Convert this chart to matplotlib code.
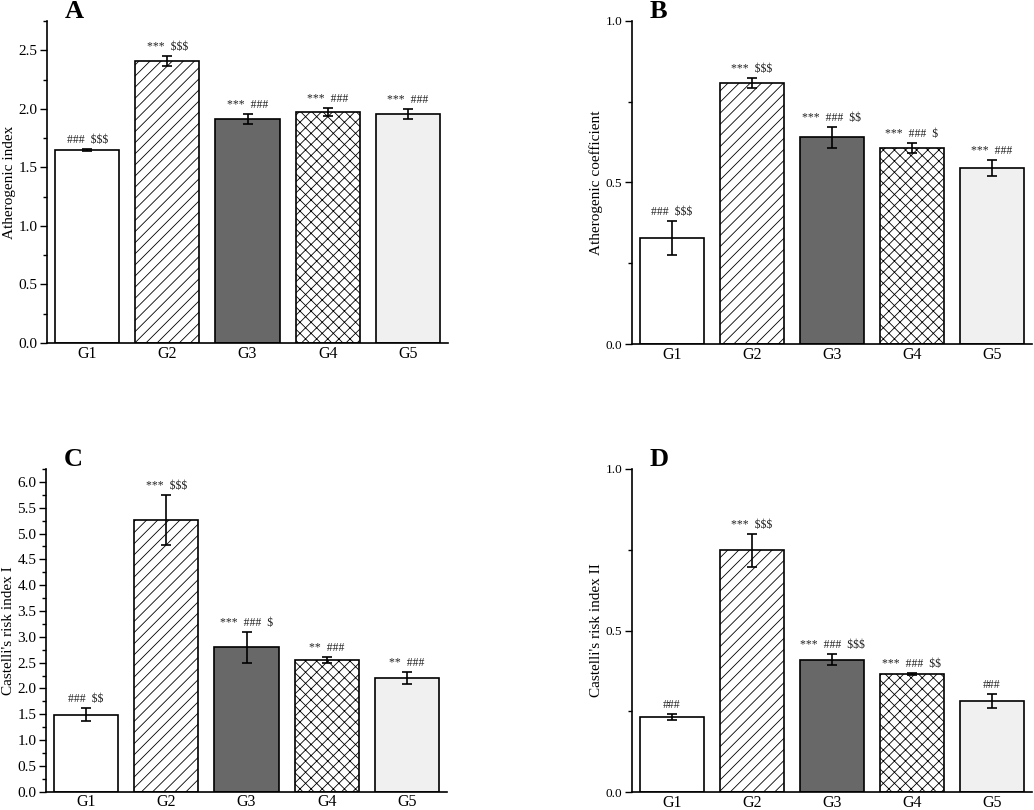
import numpy as np
import matplotlib
matplotlib.use("Agg")
import matplotlib.pyplot as plt
from matplotlib.ticker import MultipleLocator, AutoMinorLocator

plt.rcParams['font.family'] = ['Liberation Serif', 'DejaVu Serif']
plt.rcParams['hatch.linewidth'] = 0.6

# data
groups = ["G1", "G2", "G3", "G4", "G5"]

ai_mean = [1.65, 2.41, 1.915, 1.975, 1.957]
ai_err = [0.01, 0.04, 0.043, 0.034, 0.045]
ai_sig = ["###  $$$", "***  $$$", "***  ###", "***  ###", "***  ###"]

ac_mean = [0.328, 0.808, 0.640, 0.606, 0.544]
ac_err = [0.053, 0.017, 0.032, 0.016, 0.025]
ac_sig = ["###  $$$", "***  $$$", "***  ###  $$", "***  ###  $", "***  ###"]

cr1_mean = [1.49, 5.265, 2.797, 2.55, 2.20]
cr1_err = [0.13, 0.49, 0.30, 0.065, 0.12]
cr1_sig = ["###  $$", "***  $$$", "***  ###  $", "**  ###", "**  ###"]

cr2_mean = [0.233, 0.748, 0.41, 0.365, 0.281]
cr2_err = [0.009, 0.051, 0.018, 0.003, 0.022]
cr2_sig = ["###", "***  $$$", "***  ###  $$$", "***  ###  $$", "###"]

faces = ["white", "white", "#686868", "white", "#f0f0f0"]
hatches = [None, "///", None, "xxx", None]

fig = plt.figure(figsize=(10.34, 8.10), dpi=100)

panels = [
    ("A", [0.0455, 0.5765, 0.3878, 0.3975], ai_mean, ai_err, ai_sig, "Atherogenic index", 2.75, 11),
    ("B", [0.6112, 0.5753, 0.3868, 0.3988], ac_mean, ac_err, ac_sig, "Atherogenic coefficient", 1.0, 9.5),
    ("C", [0.0445, 0.0226, 0.3878, 0.3984], cr1_mean, cr1_err, cr1_sig, "Castelli's risk index I", 6.25, 11),
    ("D", [0.6112, 0.0222, 0.3868, 0.3988], cr2_mean, cr2_err, cr2_sig, "Castelli's risk index II", 1.0, 9.5),
]

x = np.arange(1, 6)
for letter, rect, mean, err, sig, ylab, ytop, tfs in panels:
    ax = fig.add_axes(rect)
    for i in range(5):
        ax.bar(x[i], mean[i], width=0.8, color=faces[i], edgecolor="black",
               linewidth=1.2, hatch=hatches[i], zorder=2)
    ax.errorbar(x, mean, yerr=err, fmt="none", ecolor="black", elinewidth=1.2,
                capsize=3.5, capthick=1.2, zorder=3)
    for i in range(5):
        ax.annotate(sig[i], (x[i], mean[i] + err[i]), xytext=(0, 2),
                    textcoords="offset points", ha="center", va="bottom",
                    fontsize=8.5, parse_math=False, color="#222222")
    ax.set_xlim(0.5, 5.5)
    ax.set_ylim(0, ytop)
    ax.set_xticks(x)
    ax.set_xticklabels(groups, fontsize=11.5)
    ax.yaxis.set_major_locator(MultipleLocator(0.5))
    ax.yaxis.set_minor_locator(AutoMinorLocator(2))
    ax.yaxis.set_major_formatter(plt.FormatStrFormatter("%.1f"))
    ax.tick_params(axis="y", which="major", length=5, width=1, labelsize=tfs,
                   direction="out", pad=2)
    ax.tick_params(axis="y", which="minor", length=3, width=1, direction="out")
    ax.tick_params(axis="x", length=0, pad=2)
    ax.spines["top"].set_visible(False)
    ax.spines["right"].set_visible(False)
    ax.spines["left"].set_linewidth(1.2)
    ax.spines["bottom"].set_linewidth(1.2)
    ax.set_ylabel(ylab, fontsize=11, labelpad=2)
    ax.text(0.045, 1.03, letter, transform=ax.transAxes, fontsize=19,
            fontweight="bold", ha="left", va="center")

fig.savefig("out.png", dpi=100)
